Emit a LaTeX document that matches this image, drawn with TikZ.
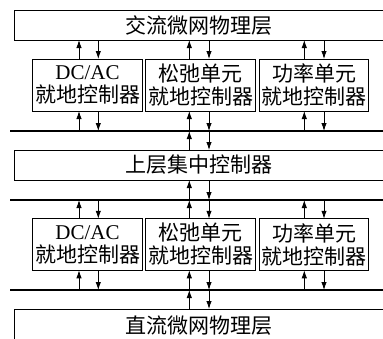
\documentclass[tikz,border=0pt]{standalone}
\usepackage{fontspec}
\setmainfont{Liberation Serif}
\newfontfamily\cjk{Noto Sans CJK SC}
\usetikzlibrary{arrows.meta}
\begin{document}
\begin{tikzpicture}[x=1pt,y=-1pt,
  box/.style={draw, line width=0.9pt, inner sep=0pt, outer sep=0pt, align=center,
    font=\fontsize{21}{23}\selectfont\cjk},
  bus/.style={line width=2.2pt},
  arr/.style={line width=0.8pt, -{Latex[length=8pt,width=5.4pt]}}]
\fill[white] (0,0) rectangle (383,338);
\useasboundingbox (0,0) rectangle (383,338);
% layers
\node[box, minimum width=370, minimum height=29.5] (ac) at (199,25.25) {交流微网物理层};
\node[box, minimum width=370, minimum height=30] (ctrl) at (199,165) {上层集中控制器};
\node[box, minimum width=370, minimum height=33] (dc) at (199,325.5) {直流微网物理层};
% local controllers, row 1
\node[box, minimum width=110.5, minimum height=52] (l1a) at (87.5,85) {{\rmfamily DC/AC}\\就地控制器};
\node[box, minimum width=109.5, minimum height=52] (l1b) at (200.5,85) {松弛单元\\就地控制器};
\node[box, minimum width=108.5, minimum height=52] (l1c) at (314,85) {功率单元\\就地控制器};
% local controllers, row 2
\node[box, minimum width=110.5, minimum height=51.5] (l2a) at (87.5,244.5) {{\rmfamily DC/AC}\\就地控制器};
\node[box, minimum width=109.5, minimum height=51.5] (l2b) at (200.5,244.5) {松弛单元\\就地控制器};
\node[box, minimum width=108.5, minimum height=51.5] (l2c) at (314,244.5) {功率单元\\就地控制器};
% buses
\coordinate (busA) at (10,131);
\coordinate (busAe) at (392,131);
\coordinate (busB) at (10,200);
\coordinate (busBe) at (392,200);
\coordinate (busC) at (10,290);
\coordinate (busCe) at (392,290);
\draw[bus] (busA) -- (busAe);
\draw[bus] (busB) -- (busBe);
\draw[bus] (busC) -- (busCe);
% arrow columns
\coordinate (upa) at (79,0);
\coordinate (dna) at (98.3,0);
\coordinate (upb) at (189.3,0);
\coordinate (dnb) at (209,0);
\coordinate (upc) at (304.3,0);
\coordinate (dnc) at (324,0);
% DC/AC column
\draw[arr] (upa |- l1a.north) -- (upa |- ac.south);
\draw[arr] (dna |- ac.south) -- (dna |- l1a.north);
\draw[arr] (upa |- busA) -- (upa |- l1a.south);
\draw[arr] (dna |- l1a.south) -- (dna |- busA);
\draw[arr] (upa |- l2a.north) -- (upa |- busB);
\draw[arr] (dna |- busB) -- (dna |- l2a.north);
\draw[arr] (upa |- busC) -- (upa |- l2a.south);
\draw[arr] (dna |- l2a.south) -- (dna |- busC);
% slack column
\draw[arr] (upb |- l1b.north) -- (upb |- ac.south);
\draw[arr] (dnb |- ac.south) -- (dnb |- l1b.north);
\draw[arr] (upb |- busA) -- (upb |- l1b.south);
\draw[arr] (dnb |- l1b.south) -- (dnb |- busA);
\draw[arr] (upb |- ctrl.north) -- (upb |- busA);
\draw[arr] (dnb |- busA) -- (dnb |- ctrl.north);
\draw[arr] (upb |- busB) -- (upb |- ctrl.south);
\draw[arr] (dnb |- ctrl.south) -- (dnb |- busB);
\draw[arr] (upb |- l2b.north) -- (upb |- busB);
\draw[arr] (dnb |- busB) -- (dnb |- l2b.north);
\draw[arr] (upb |- busC) -- (upb |- l2b.south);
\draw[arr] (dnb |- l2b.south) -- (dnb |- busC);
\draw[arr] (upb |- dc.north) -- (upb |- busC);
\draw[arr] (dnb |- busC) -- (dnb |- dc.north);
% power column
\draw[arr] (upc |- l1c.north) -- (upc |- ac.south);
\draw[arr] (dnc |- ac.south) -- (dnc |- l1c.north);
\draw[arr] (upc |- busA) -- (upc |- l1c.south);
\draw[arr] (dnc |- l1c.south) -- (dnc |- busA);
\draw[arr] (upc |- l2c.north) -- (upc |- busB);
\draw[arr] (dnc |- busB) -- (dnc |- l2c.north);
\draw[arr] (upc |- busC) -- (upc |- l2c.south);
\draw[arr] (dnc |- l2c.south) -- (dnc |- busC);
\end{tikzpicture}
\end{document}
